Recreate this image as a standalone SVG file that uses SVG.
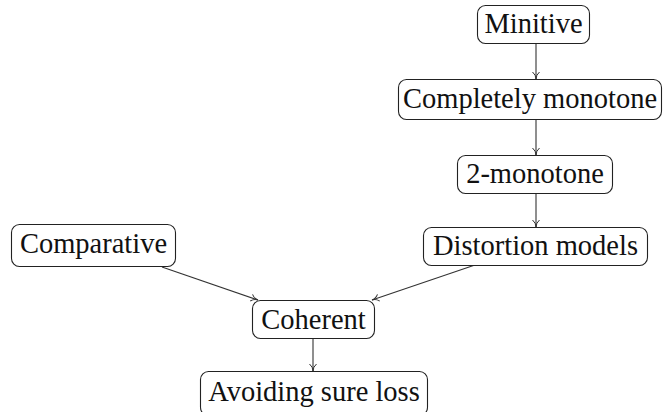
<svg xmlns="http://www.w3.org/2000/svg" width="663" height="412" viewBox="0 0 663 412">
<style>
.box{fill:#fff;stroke:#222;stroke-width:1.1}
.lbl{font-family:"Liberation Serif","Times New Roman",serif;font-size:28.5px;fill:#111;text-anchor:middle}
.edge{fill:none;stroke:#333;stroke-width:1.1;marker-end:url(#arr)}
</style>
<defs>
<marker id="arr" viewBox="0 0 10 10" refX="9" refY="5" markerWidth="10" markerHeight="10" markerUnits="userSpaceOnUse" orient="auto">
<path d="M2,1.5 Q5,5 9,5 Q5,5 2,8.5" fill="none" stroke="#333" stroke-width="1"/>
</marker>
</defs>
<g id="edges">
<line class="edge" x1="536" y1="43" x2="536" y2="79"/>
<line class="edge" x1="536" y1="119" x2="536" y2="155"/>
<line class="edge" x1="536" y1="193" x2="536" y2="227"/>
<line class="edge" x1="162" y1="267" x2="258" y2="300"/>
<line class="edge" x1="475" y1="265" x2="372" y2="300"/>
<line class="edge" x1="313" y1="338" x2="313" y2="371"/>
</g>
<g id="minitive">
<rect class="box" x="477.5" y="5.5" width="112" height="38" rx="8"/>
<text class="lbl" x="533.5" y="33">Minitive</text>
</g>
<g id="completely">
<rect class="box" x="398.5" y="79.5" width="263" height="40" rx="8"/>
<text class="lbl" x="530" y="108">Completely monotone</text>
</g>
<g id="twomonotone">
<rect class="box" x="457.5" y="155.5" width="155" height="38" rx="8"/>
<text class="lbl" x="535" y="183">2-monotone</text>
</g>
<g id="distortion">
<rect class="box" x="423.5" y="227.5" width="224" height="38" rx="8"/>
<text class="lbl" x="535.5" y="255">Distortion models</text>
</g>
<g id="comparative">
<rect class="box" x="11.5" y="224.5" width="164" height="42" rx="8"/>
<text class="lbl" x="93.5" y="253">Comparative</text>
</g>
<g id="coherent">
<rect class="box" x="252.5" y="300.5" width="122" height="38" rx="8"/>
<text class="lbl" x="313.5" y="329">Coherent</text>
</g>
<g id="avoiding">
<rect class="box" x="200.5" y="371.5" width="227" height="44" rx="8"/>
<text class="lbl" x="314" y="401">Avoiding sure loss</text>
</g>
</svg>
